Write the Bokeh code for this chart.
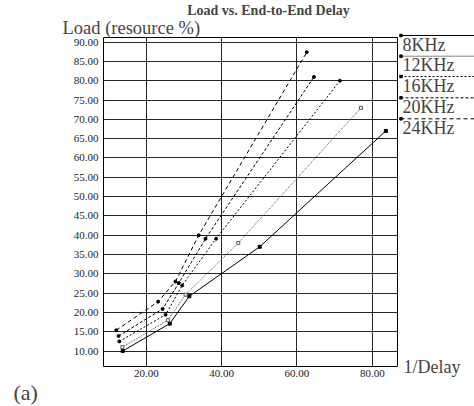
from bokeh.plotting import figure
from bokeh.models import (FixedTicker, PrintfTickFormatter, Label, Range1d, GridBox)
from bokeh.embed import file_html
from bokeh.resources import INLINE

# ---- data ----
series_names = ["8KHz", "12KHz", "16KHz", "20KHz", "24KHz"]
delay_8k = [13.7, 26.2, 31.4, 50.1, 83.6]
load_8k = [10.0, 17.1, 24.2, 37.0, 67.0]
delay_12k = [13.6, 25.7, 30.4, 44.4, 77.0]
load_12k = [11.0, 18.0, 24.6, 38.0, 73.0]
delay_16k = [12.8, 25.1, 29.5, 38.5, 71.4]
load_16k = [12.5, 19.4, 27.0, 39.1, 80.0]
delay_20k = [12.6, 24.3, 28.6, 35.7, 64.5]
load_20k = [13.9, 20.9, 27.6, 39.1, 81.0]
delay_24k = [12.0, 23.1, 27.7, 33.9, 62.6]
load_24k = [15.4, 22.8, 28.0, 40.0, 87.4]
x_ticks = [20, 40, 60, 80]
y_ticks = [10, 15, 20, 25, 30, 35, 40, 45, 50, 55, 60, 65, 70, 75, 80, 85, 90]

W, H = 474, 406
FL, FR, FT, FB = 103, 397, 37, 366   # frame edges in canvas pixels
SERIF = "Liberation Serif"

# ---------------- main plot ----------------
p = figure(width=W, height=H, output_backend="svg", toolbar_location=None,
           x_range=Range1d(8.6, 86.7), y_range=Range1d(6.0, 91.2),
           min_border_left=FL, min_border_right=W - FR, min_border_top=FT,
           min_border_bottom=H - FB, title=None)
p.outline_line_color = "black"
p.outline_line_width = 1
p.background_fill_color = "white"
p.border_fill_color = "white"

for ax in (p.xaxis[0], p.yaxis[0]):
    ax.axis_line_color = None
    ax.major_tick_out = 0
    ax.major_tick_in = 0
    ax.minor_tick_out = 0
    ax.minor_tick_in = 0
    ax.major_label_text_font = SERIF
    ax.major_label_text_font_size = "11px"
    ax.major_label_text_color = "#222222"
    ax.formatter = PrintfTickFormatter(format="%.2f")
p.xaxis[0].ticker = FixedTicker(ticks=x_ticks)
p.yaxis[0].ticker = FixedTicker(ticks=y_ticks)
p.xaxis[0].major_label_standoff = 3
p.yaxis[0].major_label_standoff = 5

p.xgrid[0].ticker = FixedTicker(ticks=x_ticks)
p.ygrid[0].ticker = FixedTicker(ticks=y_ticks)
for g in (p.xgrid[0], p.ygrid[0]):
    g.grid_line_color = "black"
    g.grid_line_alpha = 0.85
    g.grid_line_width = 1

styles = [
    (delay_8k, load_8k, "solid", "black", "square", "black"),
    (delay_12k, load_12k, "1 1", "#555555", "square", "white"),
    (delay_16k, load_16k, "2 2", "black", "circle", "black"),
    (delay_20k, load_20k, "3 2", "black", "circle", "black"),
    (delay_24k, load_24k, "4 3", "black", "circle", "black"),
]
for xs, ys, dash, col, mk, fill in styles:
    p.line(xs, ys, line_color=col, line_width=1, line_dash=dash)
    p.scatter(xs, ys, marker=mk, size=3, line_color=col, fill_color=fill,
              line_width=1)

# ---------------- overlay for texts and legend (canvas pixel coords) ----------------
q = figure(width=W, height=H, output_backend="svg", toolbar_location=None,
           x_range=Range1d(0, W), y_range=Range1d(H, 0),
           x_axis_type=None, y_axis_type=None, title=None,
           min_border_left=0, min_border_right=0, min_border_top=0,
           min_border_bottom=0)
q.outline_line_color = None
q.background_fill_alpha = 0
q.border_fill_alpha = 0

for fig in (p, q):
    try:
        fig.frame_align = False
    except Exception:
        pass

q.add_layout(Label(x=268, y=9.5, text="Load vs. End-to-End Delay", text_font=SERIF,
                   text_font_style="bold", text_font_size="14px",
                   text_align="center", text_baseline="alphabetic"))
q.add_layout(Label(x=62, y=27, text="Load (resource %)", text_font=SERIF,
                   text_font_size="18.5px", text_baseline="alphabetic"))
q.add_layout(Label(x=403, y=366, text="1/Delay", text_font=SERIF,
                   text_font_size="18px", text_baseline="alphabetic"))
q.add_layout(Label(x=13, y=392, text="(a)", text_font=SERIF,
                   text_font_size="22px", text_baseline="alphabetic"))

legend_y = [35, 55.7, 76, 97.3, 118.3]
legend_dash = ["solid", "1 1", "2 2", "3 2", "4 3"]
for name, ly, dash in zip(series_names, legend_y, legend_dash):
    q.line([400, W], [ly, ly], line_color="black", line_width=1, line_dash=dash)
    q.scatter([400.5], [ly], marker="square", size=2.5, line_color="black",
              fill_color="black")
    q.add_layout(Label(x=402, y=ly + 9, text=name, text_font=SERIF,
                       text_font_size="18px", text_baseline="alphabetic"))

layout = GridBox(children=[(p, 0, 0), (q, 0, 0)])

open("out.html", "w").write(file_html(layout, INLINE))
